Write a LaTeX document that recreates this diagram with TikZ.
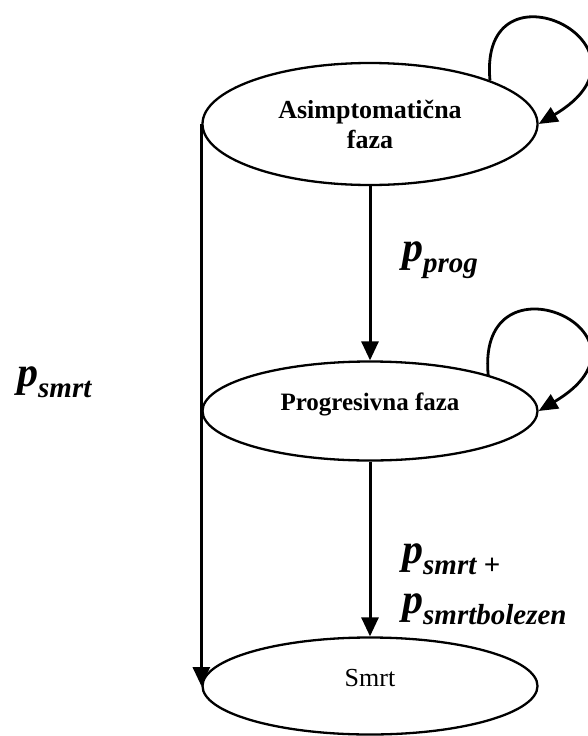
\documentclass[tikz,border=0pt]{standalone}
\usepackage{fontspec}
\setmainfont{Liberation Serif}
\usetikzlibrary{shapes.geometric,arrows.meta}
\newcommand\mypsub[1]{{\fontsize{42}{42}\selectfont p}\raisebox{-11pt}{\fontsize{29}{29}\selectfont #1}}
\begin{document}
\begin{tikzpicture}[x=1pt,y=-1pt,
  state/.style={draw, ellipse, line width=2.3pt, minimum width=335pt, inner sep=0pt},
  arr/.style={line width=3pt, -{Triangle[length=19pt,width=17pt]}},
  looparr/.style={line width=2.8pt, -{Triangle[length=19pt,width=16pt]}},
  plabel/.style={anchor=base west, inner sep=0pt, font=\bfseries\itshape}]
\useasboundingbox (0,0) rectangle (588,736);
\node[state, minimum height=122pt, align=center, font=\fontsize{26}{30}\selectfont\bfseries] (a) at (370,124) {Asimptomatična\\faza};
\node[state, minimum height=99pt, font=\fontsize{25}{30}\selectfont\bfseries, text height=10pt, text depth=12pt] (b) at (370,411) {Progresivna faza};
\node[state, minimum height=97pt, font=\fontsize{26}{30}\selectfont, text height=10pt, text depth=10pt] (c) at (370,686) {Smrt};
\node[plabel] (lprog) at (402,261) {\mypsub{prog}};
\node[plabel] (lsmrt) at (17,386) {\mypsub{smrt}};
\node[plabel] (lsb1) at (402,563) {\mypsub{smrt +}};
\node[plabel] (lsb2) at (402,613) {\mypsub{smrtbolezen}};
\draw[arr] (a.south) -- (b.north);
\draw[arr] (b.south) -- (c.north);
\draw[arr] (a.west) -- (c.west);
\draw[looparr] (a.20) .. controls +(-12,-128) and +(132,-78) .. (a.east);
\draw[looparr] (b.17) .. controls +(-12,-128) and +(132,-78) .. (b.east);
\end{tikzpicture}
\end{document}
